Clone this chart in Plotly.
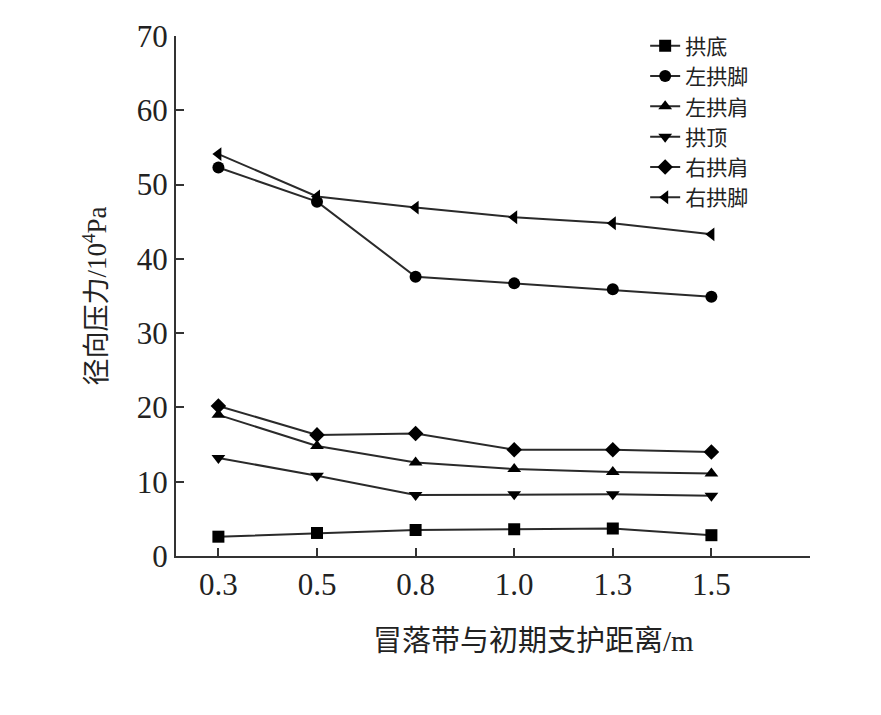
import plotly.graph_objects as go

categories = ["0.3", "0.5", "0.8", "1.0", "1.3", "1.5"]

gong_di = [2.6, 3.1, 3.5, 3.6, 3.7, 2.8]            # 拱底
zuo_gong_jiao = [52.3, 47.7, 37.6, 36.7, 35.9, 34.9]  # 左拱脚
zuo_gong_jian = [19.0, 14.8, 12.6, 11.7, 11.3, 11.1]  # 左拱肩
gong_ding = [13.2, 10.8, 8.2, 8.3, 8.3, 8.1]         # 拱顶
you_gong_jian = [20.2, 16.3, 16.5, 14.3, 14.3, 14.0]  # 右拱肩
you_gong_jiao = [54.1, 48.4, 46.9, 45.6, 44.8, 43.3]  # 右拱脚

series = [
    ("拱底", gong_di, "square"),
    ("左拱脚", zuo_gong_jiao, "circle"),
    ("左拱肩", zuo_gong_jian, "triangle-up"),
    ("拱顶", gong_ding, "triangle-down"),
    ("右拱肩", you_gong_jian, "diamond"),
    ("右拱脚", you_gong_jiao, "triangle-left"),
]

serif = "Liberation Serif, Noto Sans CJK SC, serif"
xs = list(range(len(categories)))

fig = go.Figure()
for name, vals, sym in series:
    fig.add_trace(go.Scatter(
        x=xs, y=vals, name=name, mode="lines+markers",
        line=dict(color="#2a2a2a", width=2),
        marker=dict(symbol=sym, size=12, color="black"),
    ))

fig.update_layout(
    width=881, height=715,
    margin=dict(l=168, r=79, t=28, b=167, autoexpand=False),
    paper_bgcolor="white", plot_bgcolor="white",
    font=dict(family=serif, color="#222", size=26),
    legend=dict(x=0.74, y=1.02, xanchor="left", yanchor="top",
                font=dict(size=21), tracegroupgap=0,
                bgcolor="rgba(0,0,0,0)", itemwidth=30),
)
fig.add_annotation(
    text="冒落带与初期支护距离/m", xref="paper", yref="paper",
    x=0.564, y=-0.163, xanchor="center", yanchor="middle",
    showarrow=False, font=dict(size=29),
)
fig.update_xaxes(
    range=[-0.43, 6.0], tickvals=xs, ticktext=categories,
    showline=True, linecolor="#333", linewidth=2,
    ticks="inside", ticklen=8, tickwidth=2, tickcolor="#333",
    showgrid=False, zeroline=False, automargin=False,
    tickfont=dict(size=31),
)
fig.update_yaxes(
    range=[0, 70], dtick=10,
    showline=True, linecolor="#333", linewidth=2,
    ticks="inside", ticklen=8, tickwidth=2, tickcolor="#333",
    showgrid=False, zeroline=False, automargin=False,
    tickfont=dict(size=31),
    title=dict(text="径向压力/10<sup>4</sup>Pa", font=dict(size=27), standoff=22),
)

fig.write_html("out.html")
